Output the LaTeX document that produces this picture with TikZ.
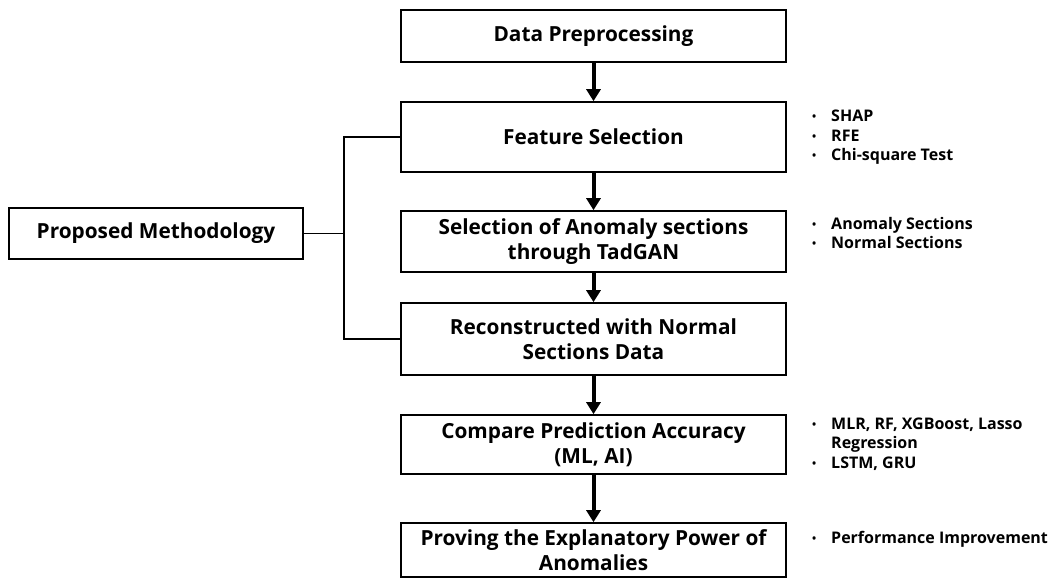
\documentclass[tikz,border=0pt]{standalone}
\usepackage{fontspec}
\setmainfont{Open Sans}
\usetikzlibrary{arrows.meta}
\newcommand{\bul}{\makebox[19pt][l]{\fontsize{11}{11}\selectfont\raisebox{1pt}{•}}}
\begin{document}
\begin{tikzpicture}[x=1pt,y=-1pt,
  box/.style={draw=black, line width=1.6pt, fill=white, inner sep=0pt, align=center,
    font=\fontsize{20.8}{25}\selectfont\bfseries, text=black},
  flow/.style={line width=4pt, -{Triangle[width=14pt,length=12pt]}},
  link/.style={line width=1.5pt},
  blist/.style={anchor=west, align=left, inner sep=0pt,
    font=\fontsize{16}{19.5}\selectfont\bfseries}]
\useasboundingbox (0,0) rectangle (1051,578);
\node[box, minimum width=385pt, minimum height=52pt] (data) at (593.5,36) {Data Preprocessing};
\node[box, minimum width=385pt, minimum height=70pt] (feat) at (593.5,137) {Feature Selection};
\node[box, minimum width=385pt, minimum height=61pt] (sel) at (593.5,241.5) {Selection of Anomaly sections\\through TadGAN};
\node[box, minimum width=385pt, minimum height=72pt] (recon) at (593.5,339) {Reconstructed with Normal\\Sections Data};
\node[box, minimum width=385pt, minimum height=59pt] (comp) at (593.5,444.5) {Compare Prediction Accuracy\\(ML, AI)};
\node[box, minimum width=385pt, minimum height=54pt] (prov) at (593.5,550) {Proving the Explanatory Power of\\Anomalies};
\node[box, minimum width=294pt, minimum height=51pt] (prop) at (156,233.5) {Proposed Methodology};

\draw[flow] (data.south) -- (feat.north);
\draw[flow] (feat.south) -- (sel.north);
\draw[flow] (sel.south) -- (recon.north);
\draw[flow] (recon.south) -- (comp.north);
\draw[flow] (comp.south) -- (prov.north);

\coordinate (bx) at (344,0);
\draw[link] (feat.west) -- (feat.west -| bx) -- (recon.west -| bx) -- (recon.west);
\draw[link] (prop.east) -- (prop.east -| bx);

\node[blist] (l1) at (812,137.5) {\bul SHAP\\\bul RFE\\\bul Chi-square Test};
\node[blist] (l2) at (812,233) {\bul Anomaly Sections\\\bul Normal Sections};
\node[blist] (l3) at (812,444) {\bul MLR, RF, XGBoost, Lasso\\\hspace*{19pt}Regression\\\bul LSTM, GRU};
\node[blist] (l4) at (812,539) {\bul Performance Improvement};
\end{tikzpicture}
\end{document}
